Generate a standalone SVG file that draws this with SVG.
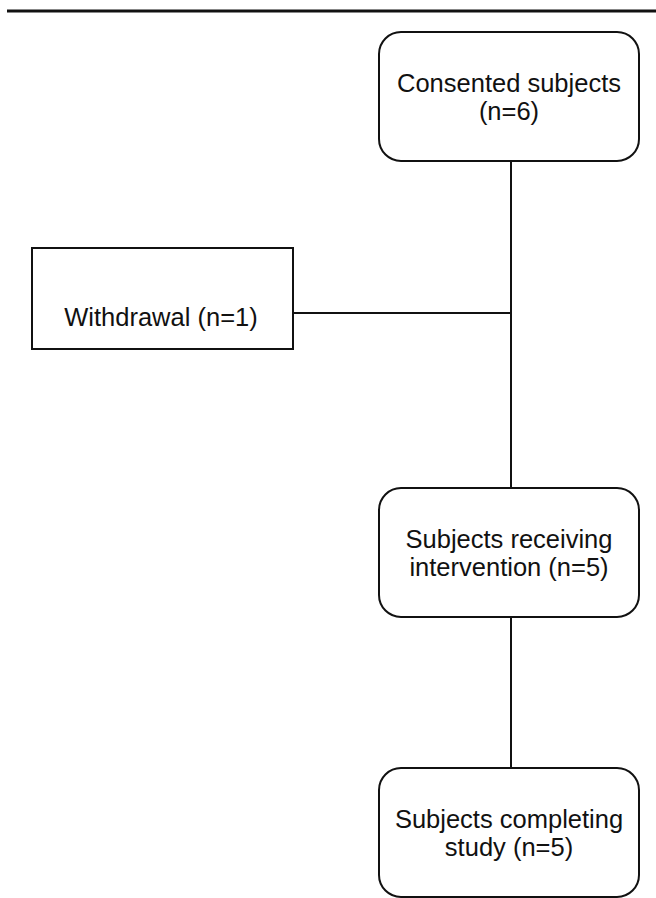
<svg xmlns="http://www.w3.org/2000/svg" width="656" height="898" viewBox="0 0 656 898">
<style>
.box{fill:#fff;stroke:#111;stroke-width:2}
.ln{stroke:#111;stroke-width:2;fill:none}
.t{font-family:"Liberation Sans",Arial,sans-serif;font-size:25.5px;fill:#111;text-anchor:middle}
</style>
<rect width="656" height="898" fill="#fff"/>
<line x1="7" y1="11" x2="656" y2="11" stroke="#111" stroke-width="3"/>
<g id="connectors">
<line class="ln" x1="511" y1="161" x2="511" y2="488"/>
<line class="ln" x1="293" y1="313" x2="511" y2="313"/>
<line class="ln" x1="511" y1="617" x2="511" y2="768"/>
</g>
<g id="consented">
<rect class="box" x="379" y="32" width="260" height="129" rx="22"/>
<text class="t" x="509" y="92">Consented subjects</text>
<text class="t" x="509" y="120">(n=6)</text>
</g>
<g id="withdrawal">
<rect class="box" x="32" y="248" width="261" height="101"/>
<text class="t" x="161" y="326">Withdrawal (n=1)</text>
</g>
<g id="receiving">
<rect class="box" x="379" y="488" width="260" height="129" rx="22"/>
<text class="t" x="509" y="548">Subjects receiving</text>
<text class="t" x="509" y="576">intervention (n=5)</text>
</g>
<g id="completing">
<rect class="box" x="379" y="768" width="260" height="129" rx="22"/>
<text class="t" x="509" y="828">Subjects completing</text>
<text class="t" x="509" y="856">study (n=5)</text>
</g>
</svg>
